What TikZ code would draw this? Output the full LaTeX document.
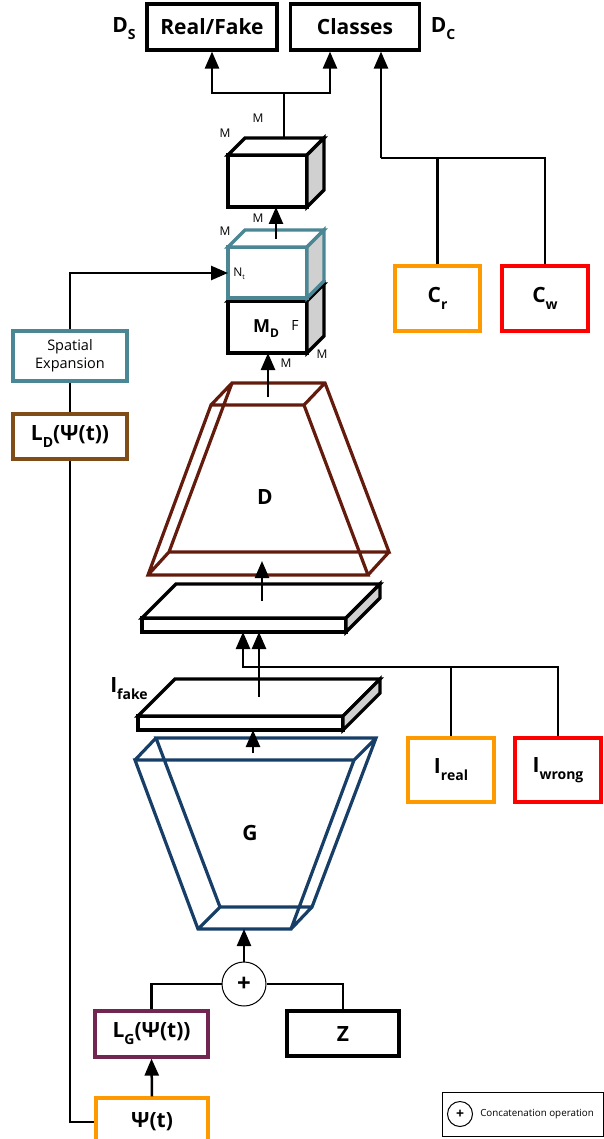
\documentclass[tikz,border=0pt]{standalone}
\usepackage{fontspec}
\setmainfont{Open Sans}
\usepackage{tikz}
\usetikzlibrary{arrows.meta}

\definecolor{orangebox}{RGB}{255,153,0}
\definecolor{redbox}{RGB}{255,0,0}
\definecolor{tealbox}{RGB}{74,134,148}
\definecolor{brownbox}{RGB}{128,77,25}
\definecolor{purplebox}{RGB}{112,38,80}
\definecolor{dnet}{RGB}{99,27,13}
\definecolor{gnet}{RGB}{23,62,103}
\definecolor{sidegray}{RGB}{208,208,208}

\newcommand{\lowsub}[1]{\raisebox{-7pt}{\fontsize{14}{14}\selectfont #1}}
% front rectangle x1 y1 x2 y2, depth, colour
\newcommand{\blockthree}[6]{%
  \filldraw[#6, line width=3.2pt, fill=white] (#1,#2) rectangle (#3,#4);
  \filldraw[#6, line width=3.2pt, fill=white] (#1,#2) -- (#1+#5,#2-#5) -- (#3+#5,#2-#5) -- (#3,#2) -- cycle;
  \filldraw[#6, line width=3.2pt, fill=sidegray] (#3,#2) -- (#3+#5,#2-#5) -- (#3+#5,#4-#5) -- (#3,#4) -- cycle;}

\begin{document}
\begin{tikzpicture}[x=1pt, y=-1pt, line width=2.5pt,
  arr/.style={-{Triangle[length=17pt,width=14pt]}},
  box/.style={draw, line width=3.2pt, inner sep=0pt, font=\fontsize{21}{24}\selectfont\bfseries},
  small/.style={inner sep=0pt, font=\fontsize{12}{12}\selectfont}]
	\useasboundingbox (0,0) rectangle (604,1139);
	% outputs
	\node[box, minimum width=130, minimum height=46] (realfake) at (212,27) {Real/Fake};
	\node[box, minimum width=129, minimum height=46] (classes) at (355,27) {Classes};
	\node[inner sep=0pt, font=\fontsize{21}{24}\selectfont\bfseries] (ds) at (124,29) {D\lowsub{S}};
	\node[inner sep=0pt, font=\fontsize{21}{24}\selectfont\bfseries] (dc) at (443,29) {D\lowsub{C}};
	\node[box, orangebox, text=black, minimum width=85, minimum height=65] (cr) at (437.5,298.5) {C\lowsub{r}};
	\node[box, redbox, text=black, minimum width=86, minimum height=65] (cw) at (545,298.5) {C\lowsub{w}};
	% blocks of the discriminator head
	\blockthree{228}{155}{307}{207}{17}{black}
	\blockthree{228}{301}{307}{353}{17}{black}
	\blockthree{228}{247}{307}{298}{17}{tealbox}
	\node[small] (m1) at (258,118) {M};
	\node[small] (m2) at (225,133) {M};
	\node[small] (m3) at (258,218) {M};
	\node[small] (m4) at (225,231) {M};
	\node[small, anchor=west] (nt) at (232,274) {N\raisebox{-3pt}{\fontsize{7}{7}\selectfont t}};
	\node[inner sep=0pt, font=\fontsize{18}{18}\selectfont\bfseries] (md) at (266,329) {M\raisebox{-5pt}{\fontsize{12}{12}\selectfont D}};
	\node[inner sep=0pt, font=\fontsize{14}{14}\selectfont] (f) at (295,326) {F};
	\node[small] (m5) at (322,354) {M};
	\node[small] (m6) at (286,363) {M};
	% text embedding side
	\node[box, tealbox, text=black, minimum width=114, minimum height=50, align=center,
	  font=\fontsize{14.5}{18}\selectfont] (spatial) at (70,356) {Spatial\\Expansion};
	\node[box, brownbox, text=black, minimum width=114, minimum height=45] (ld) at (70,436.5) {L\lowsub{D}(Ψ(t))};
	% D
	\draw[dnet, line width=3.2pt] (211,405) -- (304,405) -- (368,575) -- (148,575) -- cycle
	  (232,383) -- (325,383) -- (389,552) -- (169,552) -- cycle
	  (211,405) -- (232,383) (304,405) -- (325,383) (368,575) -- (389,552) (148,575) -- (169,552);
	\node[font=\fontsize{21}{24}\selectfont\bfseries] (dlab) at (265,497) {D};
	% images
	\blockthree{142}{618}{346}{632}{34}{black}
	\blockthree{138}{716}{343}{730}{37}{black}
	\node[inner sep=0pt, font=\fontsize{21}{24}\selectfont\bfseries] (ifake) at (129,689) {I\lowsub{fake}};
	\node[box, orangebox, text=black, minimum width=86, minimum height=64] (ireal) at (451,770) {I\lowsub{real}};
	\node[box, redbox, text=black, minimum width=86, minimum height=64] (iwrong) at (558,770) {I\lowsub{wrong}};
	% G
	\draw[gnet, line width=3.2pt] (135,760) -- (354,760) -- (291,929) -- (198,929) -- cycle
	  (156,738) -- (376,738) -- (312,907) -- (220,907) -- cycle
	  (135,760) -- (156,738) (354,760) -- (376,738) (291,929) -- (312,907) (198,929) -- (220,907);
	\node[font=\fontsize{21}{24}\selectfont\bfseries] (glab) at (250,833) {G};
	% generator input
	\node[circle, draw, line width=1pt, minimum size=44pt, inner sep=0pt,
	  font=\fontsize{24}{24}\selectfont\bfseries] (cat) at (244,984) {+};
	\node[box, purplebox, text=black, minimum width=113, minimum height=46] (lg) at (151.5,1034) {L\lowsub{G}(Ψ(t))};
	\node[box, minimum width=112, minimum height=45] (z) at (343,1033.5) {Z};
	\node[box, orangebox, text=black, minimum width=112, minimum height=48] (psi) at (152,1122) {Ψ(t)};
	% legend
	\node[draw, line width=1pt, minimum width=161, minimum height=44] (legend) at (522.5,1114) {};
	\node[circle, draw, line width=1pt, minimum size=25pt, inner sep=0pt,
	  font=\fontsize{14}{14}\selectfont\bfseries] (catkey) at (460,1114) {+};
	\node[anchor=west, inner sep=0pt, font=\fontsize{9.8}{10}\selectfont] (catlab) at (479,1114) {Concatenation operation};
	% connectors
	\coordinate (split) at (284,93);
	\coordinate (topcube) at (284,137);
	\coordinate (cjoin) at (381,158);
	\draw[arr] (split) -| (realfake.south);
	\draw[arr] (split) -| ([xshift=-25]classes.south);
	\draw (topcube) -- (split);
	\draw (cw.north) |- (cjoin);
	\draw (cr.north) -- (cr.north |- cjoin);
	\draw[arr] (cjoin) -- ([xshift=26]classes.south);
	\coordinate (tealtop) at (276,239);
	\coordinate (cubebot) at (276,207);
	\draw[arr] (tealtop) -- (cubebot);
	\coordinate (ntin) at (228,273);
	\draw[arr] (spatial.north) |- (ntin);
	\draw (ld.north) -- (spatial.south);
	\draw (ld.south) |- (psi.west);
	\coordinate (dtop) at (268,397);
	\coordinate (mdbot) at (268,353);
	\draw[arr] (dtop) -- (mdbot);
	\coordinate (slabtop) at (262,601);
	\coordinate (dbot) at (262,561);
	\draw[arr] (slabtop) -- (dbot);
	\coordinate (rjoin) at (243,667);
	\coordinate (slabbotl) at (243,632);
	\coordinate (slabbotr) at (259,632);
	\coordinate (faketop) at (259,697);
	\draw[arr] (iwrong.north) |- (rjoin) -- (slabbotl);
	\draw (ireal.north) -- (ireal.north |- rjoin);
	\draw[arr] (faketop) -- (slabbotr);
	\coordinate (gtop) at (253,753);
	\coordinate (fakebot) at (253,730);
	\draw[arr] (gtop) -- (fakebot);
	\coordinate (gbot) at (244,929);
	\draw[arr] (cat.north) -- (gbot);
	\draw (lg.north) |- (cat.west);
	\draw (z.north) |- (cat.east);
	\draw[arr] (psi.north) -- (lg.south);
\end{tikzpicture}
\end{document}
